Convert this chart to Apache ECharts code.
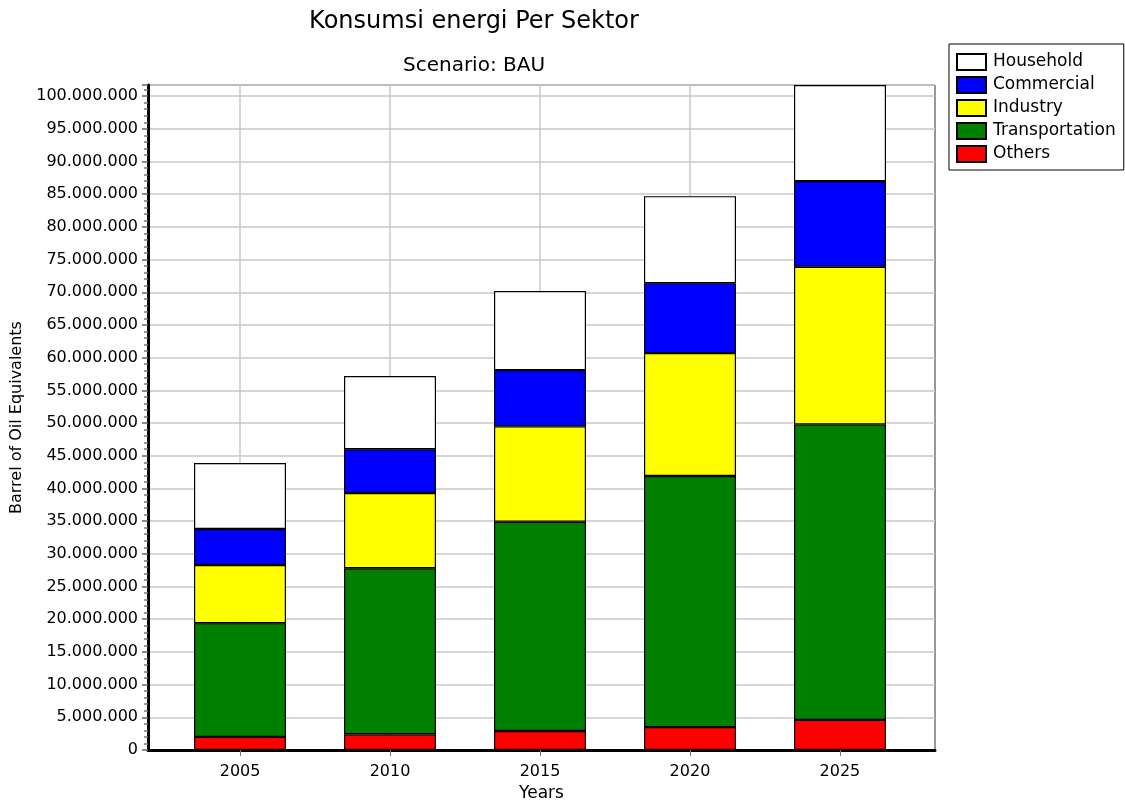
<!DOCTYPE html>
<html>
<head>
<meta charset="utf-8">
<script src="https://cdn.jsdelivr.net/npm/echarts@6/dist/echarts.min.js"></script>
<style>
  html, body { margin: 0; padding: 0; background: #fff; }
  #chart { width: 1125px; height: 807px; }
</style>
</head>
<body>
<div id="chart"></div>
<script>
// values (barrel of oil equivalents)
const years = [2005, 2010, 2015, 2020, 2025]
const others = [2000000, 2400000, 2900000, 3500000, 4600000]
const transportation = [17400000, 25400000, 32000000, 38400000, 45200000]
const industry = [8900000, 11500000, 14600000, 18800000, 24100000]
const commercial = [5500000, 6700000, 8600000, 10700000, 13100000]
const household = [10100000, 11200000, 12100000, 13300000, 14700000]

const legendOrder = ['Household', 'Commercial', 'Industry', 'Transportation', 'Others']

const yMax = 101700000

const fmt = v => String(v).replace(/\B(?=(\d{3})+(?!\d))/g, '.')

// bars live on a hidden category grid, the visible frame/axes on grid 0
const makeSeries = (name, arr, color) => ({
  name: name,
  type: 'bar',
  stack: 'total',
  xAxisIndex: 1,
  yAxisIndex: 1,
  barWidth: 92,
  data: arr,
  itemStyle: { color: color, borderColor: '#000', borderWidth: 1.2 },
  emphasis: { disabled: true }
})

const chart = echarts.init(document.getElementById('chart'))

const options = {
  backgroundColor: '#fff',
  animation: false,
  textStyle: { fontFamily: 'DejaVu Sans' },
  title: [{
    text: 'Konsumsi energi Per Sektor',
    left: 469, top: 5, textAlign: 'center',
    textStyle: { fontSize: 24, fontWeight: 'normal', color: '#000', fontFamily: 'DejaVu Sans' }
  }, {
    text: 'Scenario: BAU',
    left: 469, top: 51, textAlign: 'center',
    textStyle: { fontSize: 20, fontWeight: 'normal', color: '#000', fontFamily: 'DejaVu Sans' }
  }],
  legend: {
    orient: 'vertical',
    left: 949, top: 44,
    width: 175,
    data: legendOrder,
    itemWidth: 29, itemHeight: 16, itemGap: 5,
    padding: [9, 8, 7, 7],
    borderColor: '#000', borderWidth: 1,
    icon: 'rect',
    textStyle: { fontSize: 17, lineHeight: 18, color: '#000', fontFamily: 'DejaVu Sans', padding: [0, 0, 0, 2] },
    selectedMode: false
  },
  grid: [{
    left: 148, right: 190, top: 85, bottom: 57,
    show: true, borderColor: '#333', borderWidth: 1
  }, {
    left: 165, right: 210, top: 85, bottom: 57
  }],
  xAxis: [{
    type: 'value',
    gridIndex: 0,
    min: 2001.93, max: 2028.17,
    name: 'Years', nameLocation: 'middle', nameGap: 34,
    nameTextStyle: { fontSize: 17, color: '#000' },
    axisLine: { show: true, onZero: false, lineStyle: { color: '#000', width: 3 } },
    axisTick: { show: true, length: 6, customValues: years, lineStyle: { color: '#777' } },
    axisLabel: { customValues: years, fontSize: 16, color: '#000', margin: 14, formatter: v => String(v) },
    splitLine: { show: true, lineStyle: { color: '#c8c8c8', width: 1.5 } }
  }, {
    type: 'category',
    gridIndex: 1,
    data: years,
    show: false
  }],
  yAxis: [{
    type: 'value',
    gridIndex: 0,
    min: 0, max: yMax, interval: 5000000,
    name: 'Barrel of Oil Equivalents', nameLocation: 'middle', nameGap: 122, nameRotate: 90,
    nameTextStyle: { fontSize: 16, color: '#000' },
    axisLine: { show: true, lineStyle: { color: '#000', width: 3 } },
    axisTick: { show: true, length: 6, lineStyle: { color: '#666', width: 1.5 } },
    minorTick: { show: true, splitNumber: 5, length: 4, lineStyle: { color: '#777', width: 1.5 } },
    axisLabel: { fontSize: 16, color: '#000', margin: 10, formatter: fmt, showMaxLabel: false },
    splitLine: { show: true, lineStyle: { color: '#c8c8c8', width: 1.5 } }
  }, {
    type: 'value',
    gridIndex: 1,
    min: 0, max: yMax,
    show: false
  }],
  series: [
    makeSeries('Others', others, '#ff0000'),
    makeSeries('Transportation', transportation, '#008000'),
    makeSeries('Industry', industry, '#ffff00'),
    makeSeries('Commercial', commercial, '#0000ff'),
    makeSeries('Household', household, '#ffffff')
  ]
}

chart.setOption(options)
</script>
</body>
</html>
